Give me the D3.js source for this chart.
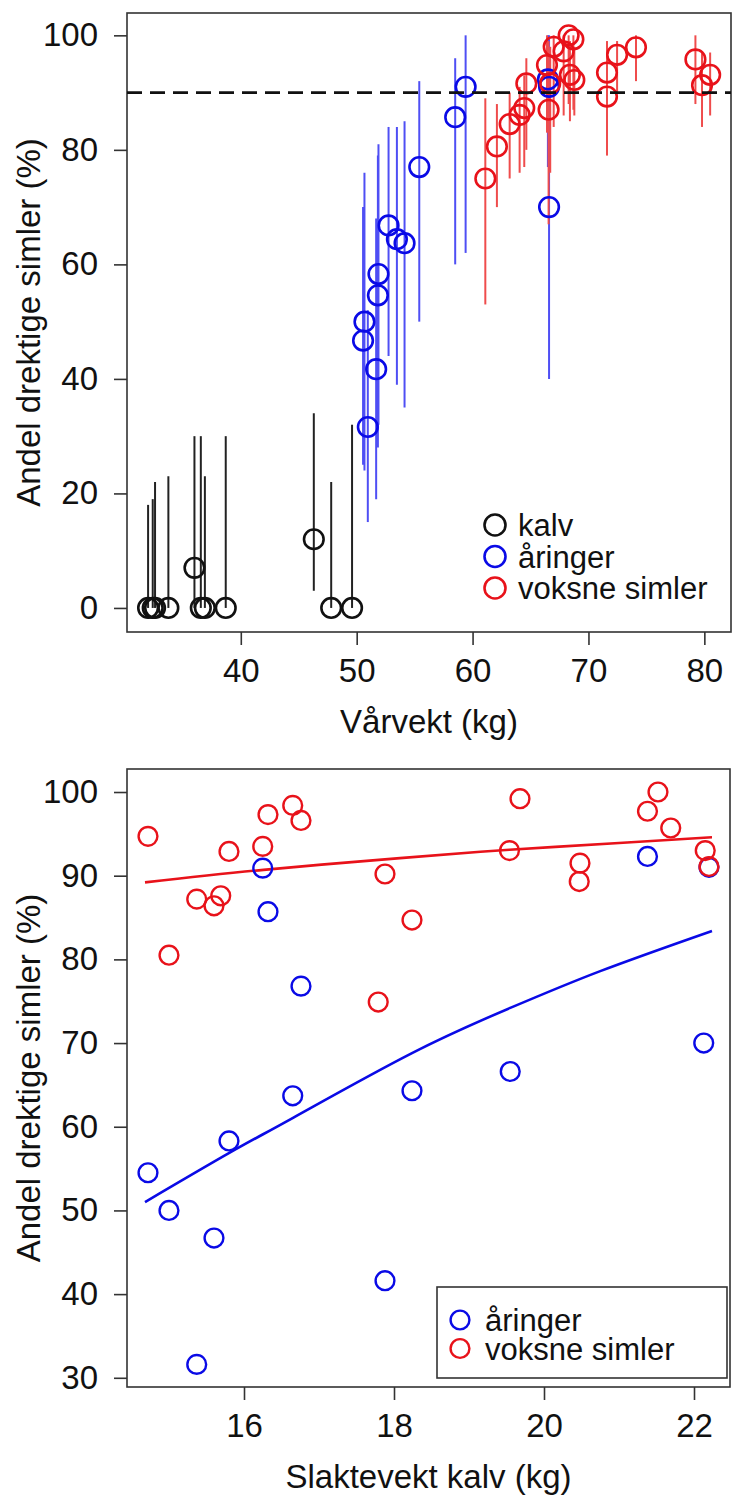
<!DOCTYPE html>
<html>
<head>
<meta charset="utf-8">
<script src="https://cdn.jsdelivr.net/npm/d3@7"></script>
<style>
  body { margin: 0; background: #fff; }
  svg text { font-family: "Liberation Sans", Arial, Helvetica, sans-serif; fill: #111; }
</style>
</head>
<body>
<svg id="chart" width="732" height="1499"></svg>
<script>
// ---- top panel: vårvekt (kg) vs andel drektige (%), with lower/upper limits
const kalvWeight = [32.0, 32.4, 32.6, 33.75, 36.0, 36.55, 36.9, 38.7, 46.3, 47.8, 49.6]
const kalvShare  = [0, 0, 0, 0, 7, 0, 0, 0, 12, 0, 0]
const kalvLower  = [0, 0, 0, 0, 0, 0, 0, 0, 3, 0, 0]
const kalvUpper  = [18, 19, 22, 23, 30, 30, 23, 30, 34, 22, 32]

const aringWeight = [50.55, 50.67, 50.96, 51.68, 51.83, 51.88, 52.75, 53.47, 54.13, 55.4, 58.5, 59.4, 66.6, 66.5, 66.6]
const aringShare  = [46.7, 50.0, 31.6, 41.7, 54.6, 58.3, 66.8, 64.4, 63.7, 77.0, 85.7, 91.0, 70.0, 92.3, 91.0]
const aringLower  = [25, 24, 15, 19, 28, 32, 44, 39, 35, 50, 60, 62, 40, 77, 80]
const aringUpper  = [70, 76, 52, 68, 79, 81, 84, 84, 85, 92, 96, 100, 100, 100, 98]

const voksneWeight = [61.1, 62.1, 63.2, 64.06, 64.46, 64.64, 66.42, 66.56, 67.0, 66.7, 67.86, 68.29, 68.7, 68.4, 68.78, 71.6, 71.6, 72.47, 74.1, 79.23, 79.8, 80.5]
const voksneShare  = [75.0, 80.6, 84.5, 86.1, 87.3, 91.6, 94.8, 87.0, 98.0, 91.6, 97.2, 100, 99.3, 93.1, 92.2, 93.5, 89.3, 96.6, 97.9, 95.8, 91.3, 93.1]
const voksneLower  = [53, 70, 75, 76, 77, 80, 83, 67, 84, 76, 86, 88, 87, 85, 86, 84, 79, 90, 92, 88, 84, 86]
const voksneUpper  = [89, 88, 90, 91, 93, 96, 100, 99, 100, 98, 100, 100, 100, 99, 98, 99, 96, 99, 100, 100, 97, 97]

const targetShare = 90

// ---- bottom panel: slaktevekt kalv (kg) vs andel drektige (%)
const slaktAringX = [14.72, 15.0, 15.37, 15.6, 15.8, 16.25, 16.32, 16.65, 16.76, 17.88, 18.24, 19.55, 21.38, 22.13, 22.2]
const slaktAringY = [54.5, 50.0, 31.6, 46.7, 58.3, 90.9, 85.7, 63.7, 76.8, 41.6, 64.3, 66.6, 92.3, 70.0, 91.0]
const slaktVoksneX = [14.72, 15.0, 15.37, 15.6, 15.69, 15.8, 16.25, 16.32, 16.65, 16.76, 17.88, 17.79, 18.24, 19.54, 19.68, 20.48, 20.47, 21.38, 21.52, 21.69, 22.15, 22.2]
const slaktVoksneY = [94.7, 80.5, 87.2, 86.4, 87.6, 92.9, 93.5, 97.3, 98.4, 96.6, 90.2, 74.9, 84.7, 93.0, 99.2, 91.5, 89.3, 97.7, 100, 95.7, 93.0, 91.1]

// fitted curves
const fitAringX = [14.68, 15.81, 16.66, 18.24, 19.55, 20.75, 22.24]
const fitAringY = [51.0, 56.9, 61.1, 68.8, 74.2, 78.6, 83.4]
const fitVoksneX = [14.68, 16.26, 18.08, 19.54, 21.0, 22.24]
const fitVoksneY = [89.2, 90.7, 92.1, 93.1, 93.9, 94.6]

// ticks and labels
const topXTicks = [40, 50, 60, 70, 80]
const topYTicks = [0, 20, 40, 60, 80, 100]
const bottomXTicks = [16, 18, 20, 22]
const bottomYTicks = [30, 40, 50, 60, 70, 80, 90, 100]
const yTitle = "Andel drektige simler (%)"
const topXTitle = "Vårvekt (kg)"
const bottomXTitle = "Slaktevekt kalv (kg)"
const groupNames = ["kalv", "åringer", "voksne simler"]

const colors = { kalv: "#111111", "åringer": "#0a0ae6", "voksne simler": "#e8121a" }
const barColors = { kalv: "#222222", "åringer": "#4f4ff4", "voksne simler": "#ef4c4c" }
const fontSize = 33
const legendFontSize = 31

const svg = d3.select("#chart")

function zip(xs, ys, lo, hi) {
  return xs.map((x, i) => ({ x, y: ys[i], lo: lo ? lo[i] : null, hi: hi ? hi[i] : null }))
}

function drawFrame(dims, xScale, yScale, xTicks, yTicks, xTitle) {
  const g = svg.append("g")

  const xAxis = d3.axisBottom(xScale).tickValues(xTicks).tickSize(13).tickPadding(14).tickFormat(d3.format("d"))
  const yAxis = d3.axisLeft(yScale).tickValues(yTicks).tickSize(13).tickPadding(16).tickFormat(d3.format("d"))

  const gx = g.append("g")
    .attr("transform", `translate(0,${dims.bottom})`)
    .call(xAxis)
  const gy = g.append("g")
    .attr("transform", `translate(${dims.left},0)`)
    .call(yAxis)

  ;[gx, gy].forEach(ax => {
    ax.attr("font-size", fontSize).attr("font-family", null)
    ax.select(".domain").remove()
    ax.selectAll(".tick line").attr("stroke", "#333").attr("stroke-width", 1.6)
    ax.selectAll(".tick text").attr("fill", "#111")
  })

  g.append("rect")
    .attr("x", dims.left)
    .attr("y", dims.top)
    .attr("width", dims.right - dims.left)
    .attr("height", dims.bottom - dims.top)
    .attr("fill", "none")
    .attr("stroke", "#333")
    .attr("stroke-width", 1.6)

  g.append("text")
    .attr("x", (dims.left + dims.right) / 2)
    .attr("y", dims.bottom + 101)
    .attr("text-anchor", "middle")
    .attr("font-size", fontSize)
    .text(xTitle)

  g.append("text")
    .attr("transform", `translate(40,${(dims.top + dims.bottom) / 2}) rotate(-90)`)
    .attr("text-anchor", "middle")
    .attr("font-size", fontSize)
    .text(yTitle)
}

// ================= top panel =================
const topDims = { left: 127, right: 731, top: 13, bottom: 632 }
const xTop = d3.scaleLinear().domain([30.18, 82.3]).range([topDims.left, topDims.right])
const yTop = d3.scaleLinear().domain([-4.2, 103.9]).range([topDims.bottom, topDims.top])

drawFrame(topDims, xTop, yTop, topXTicks, topYTicks, topXTitle)

const topGroups = [
  { name: "kalv", data: zip(kalvWeight, kalvShare, kalvLower, kalvUpper) },
  { name: "åringer", data: zip(aringWeight, aringShare, aringLower, aringUpper) },
  { name: "voksne simler", data: zip(voksneWeight, voksneShare, voksneLower, voksneUpper) },
]

const topPlot = svg.append("g")
topGroups.forEach(grp => {
  topPlot.append("g").selectAll("line")
    .data(grp.data)
    .join("line")
    .attr("x1", d => xTop(d.x))
    .attr("x2", d => xTop(d.x))
    .attr("y1", d => yTop(d.lo))
    .attr("y2", d => yTop(d.hi))
    .attr("stroke", barColors[grp.name])
    .attr("stroke-width", 2)
})
topGroups.forEach(grp => {
  topPlot.append("g").selectAll("circle")
    .data(grp.data)
    .join("circle")
    .attr("cx", d => xTop(d.x))
    .attr("cy", d => yTop(d.y))
    .attr("r", 9.8)
    .attr("fill", "none")
    .attr("stroke", colors[grp.name])
    .attr("stroke-width", 2.6)
})

topPlot.append("line")
  .attr("x1", topDims.left)
  .attr("x2", topDims.right)
  .attr("y1", yTop(targetShare))
  .attr("y2", yTop(targetShare))
  .attr("stroke", "#111")
  .attr("stroke-width", 2.6)
  .attr("stroke-dasharray", "15,8")

// legend without box
const legTop = svg.append("g")
groupNames.forEach((name, i) => {
  const cy = 525 + i * 31.5
  legTop.append("circle")
    .attr("cx", 495).attr("cy", cy).attr("r", 10.5)
    .attr("fill", "none").attr("stroke", colors[name]).attr("stroke-width", 2.6)
  legTop.append("text")
    .attr("x", 518).attr("y", cy + 11)
    .attr("font-size", legendFontSize)
    .text(name)
})

// ================= bottom panel =================
const botDims = { left: 127, right: 730, top: 769, bottom: 1387 }
const xBot = d3.scaleLinear().domain([14.44, 22.48]).range([botDims.left, botDims.right])
const yBot = d3.scaleLinear().domain([28.9, 102.75]).range([botDims.bottom, botDims.top])

drawFrame(botDims, xBot, yBot, bottomXTicks, bottomYTicks, bottomXTitle)

const botPlot = svg.append("g")
const bottomGroups = [
  { name: "åringer", data: zip(slaktAringX, slaktAringY), fit: zip(fitAringX, fitAringY) },
  { name: "voksne simler", data: zip(slaktVoksneX, slaktVoksneY), fit: zip(fitVoksneX, fitVoksneY) },
]

const fitLine = d3.line()
  .x(d => xBot(d.x))
  .y(d => yBot(d.y))
  .curve(d3.curveNatural)

bottomGroups.forEach(grp => {
  botPlot.append("path")
    .attr("d", fitLine(grp.fit))
    .attr("fill", "none")
    .attr("stroke", colors[grp.name])
    .attr("stroke-width", 2.6)
})
bottomGroups.forEach(grp => {
  botPlot.append("g").selectAll("circle")
    .data(grp.data)
    .join("circle")
    .attr("cx", d => xBot(d.x))
    .attr("cy", d => yBot(d.y))
    .attr("r", 9.4)
    .attr("fill", "none")
    .attr("stroke", colors[grp.name])
    .attr("stroke-width", 2.4)
})

// legend with box
const legBot = svg.append("g")
legBot.append("rect")
  .attr("x", 437).attr("y", 1287)
  .attr("width", 290).attr("height", 91)
  .attr("fill", "#fff")
  .attr("stroke", "#333")
  .attr("stroke-width", 1.6)
groupNames.slice(1).forEach((name, i) => {
  const cy = 1320 + i * 28.5
  legBot.append("circle")
    .attr("cx", 460).attr("cy", cy).attr("r", 9.4)
    .attr("fill", "none").attr("stroke", colors[name]).attr("stroke-width", 2.4)
  legBot.append("text")
    .attr("x", 485).attr("y", cy + 11)
    .attr("font-size", legendFontSize)
    .text(name)
})
</script>
</body>
</html>
